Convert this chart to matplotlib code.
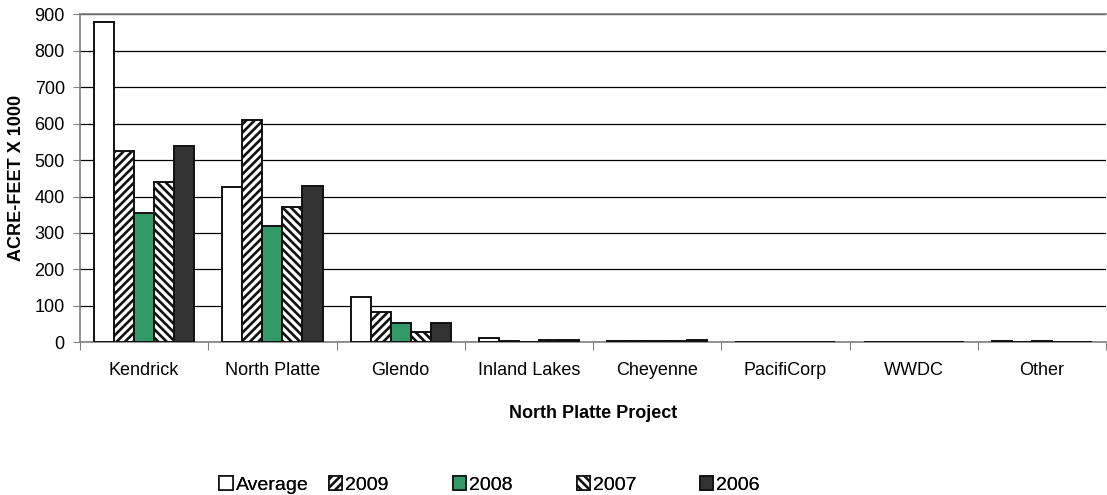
import numpy as np
import matplotlib
matplotlib.use("Agg")
from matplotlib import pyplot as plt
from matplotlib.patches import Patch

plt.rcParams['font.family'] = ['Liberation Sans', 'DejaVu Sans']
plt.rcParams['hatch.linewidth'] = 1.9

# 数据 (千英亩-英尺)
projects = ['Kendrick', 'North Platte', 'Glendo', 'Inland Lakes', 'Cheyenne',
            'PacifiCorp', 'WWDC', 'Other']
avg_vals = [880, 426, 123, 13, 4, 2, 0, 3]
y2009 = [526, 611, 84, 3, 4, 2, 0, 2]
y2008 = [356, 320, 52, 2, 3, 2, 0, 3]
y2007 = [440, 370, 28, 5, 3, 2, 0, 1]
y2006 = [540, 428, 53, 5, 5, 2, 0, 2]

series_names = ['Average', '2009', '2008', '2007', '2006']
series_vals = [avg_vals, y2009, y2008, y2007, y2006]
styles = [
    dict(facecolor='white', hatch=None),
    dict(facecolor='white', hatch='////'),
    dict(facecolor='#339966', hatch=None),
    dict(facecolor='white', hatch='\\\\\\\\'),
    dict(facecolor='#333333', hatch=None),
]

fig = plt.figure(figsize=(11.07, 4.95), dpi=100)
ax = fig.add_axes([0.0723, 0.3085, 0.9268, 0.6626])

x = np.arange(len(projects))
bw = 1 / 6.4
for i, (name, vals, st) in enumerate(zip(series_names, series_vals, styles)):
    offs = (i - 2) * bw
    ax.bar(x + offs, vals, width=bw, edgecolor='#111111', linewidth=1.4,
           zorder=3, label=name, **st)

ax.set_xlim(-0.5, len(projects) - 0.5)
ax.set_ylim(0, 900)
ax.set_yticks(np.arange(0, 901, 100))
ax.yaxis.grid(True, color='black', linewidth=0.9)
ax.set_axisbelow(True)

# 类别刻度在组之间
ax.set_xticks(np.arange(-0.5, len(projects) + 0.5, 1))
ax.set_xticklabels([])
ax.set_xticks(x, minor=True)
ax.set_xticklabels(projects, minor=True, fontsize=13)
ax.tick_params(axis='x', which='minor', length=0, pad=14)
ax.tick_params(axis='x', which='major', length=6, color='#808080')
ax.tick_params(axis='y', length=5, color='#808080', labelsize=13, pad=6)

for s in ['left', 'bottom', 'top']:
    ax.spines[s].set_color('#808080')
    ax.spines[s].set_linewidth(1.2)
ax.spines['right'].set_visible(False)

ax.set_ylabel('ACRE-FEET X 1000', fontsize=13, fontweight='bold', labelpad=7)
ax.set_xlabel('North Platte Project', fontsize=13, fontweight='bold', labelpad=19)

# 图例
leg_x = [0.198, 0.297, 0.409, 0.521, 0.632]
for name, st, lx in zip(series_names, styles, leg_x):
    h = Patch(edgecolor='#111111', linewidth=1.2, **st)
    lg = fig.legend([h], [name], loc='center left', bbox_to_anchor=(lx, 0.02),
                    frameon=False, fontsize=14, handlelength=0.7,
                    handleheight=0.7, handletextpad=0.15, borderpad=0,
                    borderaxespad=0)
    fig.add_artist(lg)

fig.savefig('out.png', dpi=100)
